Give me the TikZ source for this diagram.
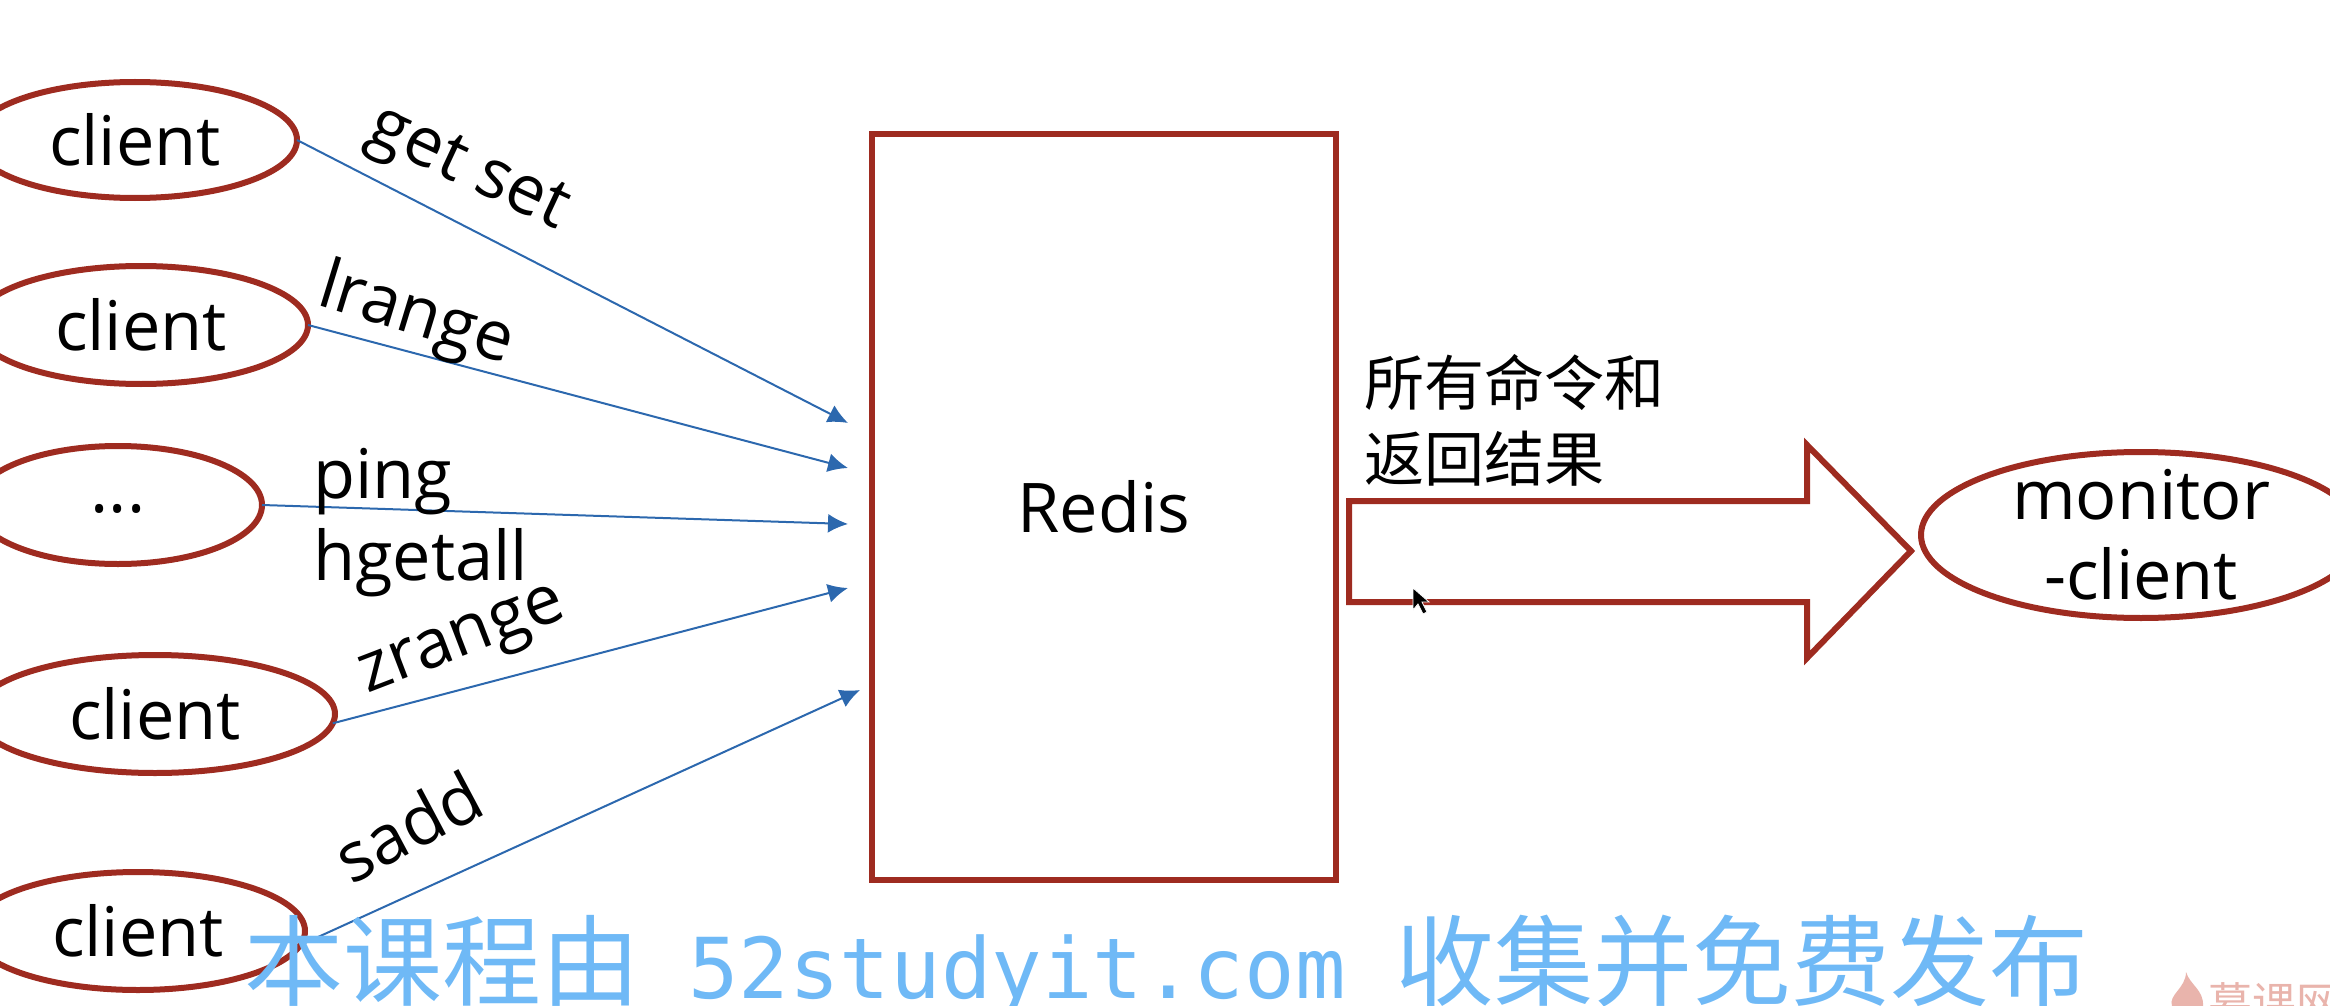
\documentclass[tikz,border=0pt]{standalone}
\usepackage{fontspec}
\setmainfont{Open Sans}
\newfontfamily\cjk{Noto Sans CJK SC}
\newfontfamily\wmono{DejaVu Sans Mono}
\usetikzlibrary{arrows.meta}
\usetikzlibrary{shapes.geometric}
\definecolor{boxred}{HTML}{9E2B20}
\definecolor{lineblue}{HTML}{2C68AE}
\definecolor{markblue}{HTML}{6FB9F6}
\definecolor{logopink}{HTML}{E9B4AC}
\tikzset{
bigtext/.style={font=\fontsize{68.5}{80}\selectfont},
oval/.style={ellipse,draw=boxred,line width=6pt,inner sep=0pt,outer sep=0pt,bigtext},
cmdline/.style={draw=lineblue,line width=2pt,-{Latex[length=20pt,width=19pt,color=lineblue]}},
cmdtext/.style={bigtext,inner sep=0pt},
}
\begin{document}
\begin{tikzpicture}[x=1pt,y=-1pt]
\clip (0,0) rectangle (2330,1006);
%%% HERE ARE THE CLIENTS %%%
\node[oval,minimum width=324pt,minimum height=116pt](client1) at (135,140){client};
\node[oval,minimum width=334pt,minimum height=118pt](client2) at (141,325){client};
\node[oval,minimum width=288pt,minimum height=118pt](client3) at (118,505){\raisebox{-15pt}{...}};
\node[oval,minimum width=360pt,minimum height=118pt](client4) at (155,714){client};
\node[oval,minimum width=334pt,minimum height=118pt](client5) at (138,931){client};
%%% HERE IS REDIS %%%
\node[rectangle,draw=boxred,line width=6pt,minimum width=464pt,minimum height=746pt,inner sep=0pt,bigtext](redis) at (1104,507){Redis};
%%% ARROW ENDS %%%
\coordinate(end1) at (848,423);
\coordinate(end2) at (848,468);
\coordinate(end3) at (848,524);
\coordinate(end4) at (848,588);
\coordinate(end5) at (860,690);
\draw[cmdline] (client1.east) -- (end1);
\draw[cmdline] (client2.east) -- (end2);
\draw[cmdline] (client3.east) -- (end3);
\draw[cmdline] (client4.-3) -- (end4);
\draw[cmdline] (client5.-5) -- (end5);
%%% COMMANDS %%%
\node[cmdtext,rotate=-25](getset) at (467,172){get set};
\node[cmdtext,rotate=-17](lrange) at (416,317){lrange};
\node[cmdtext,anchor=base west](ping) at (313,498){ping};
\node[cmdtext,anchor=base west](hgetall) at (313,580){hgetall};
\node[cmdtext,rotate=21](zrange) at (464,645){zrange};
\node[cmdtext,rotate=28](sadd) at (408,826){sadd};
%%% BIG ARROW AND MONITOR %%%
\draw[draw=boxred,line width=6pt,miter limit=10] (1349,501) -- (1807,501) -- (1807,445) -- (1911,551) -- (1807,658) -- (1807,602) -- (1349,602) -- cycle;
\node[oval,minimum width=440pt,minimum height=166pt](monitor) at (2141,535){};
\node[bigtext,align=center,inner sep=0pt](monitortext) at (2141,535){monitor\\-client};
\node[anchor=base west,align=left,inner sep=0pt,font=\cjk\fontsize{60}{76}\selectfont](result) at (1364,481){所有命令和\\返回结果};
\fill[black,draw=white,line width=.8pt] (1413,588) -- (1413,610) -- (1418,604) -- (1423,614) -- (1427,612) -- (1422,602) -- (1429,602) -- cycle;
%%% WATERMARK %%%
\node[anchor=base west,inner sep=0pt,text=markblue,font=\cjk\fontsize{99}{99}\selectfont](mark) at (244,998){本课程由\hspace{48pt}{\wmono\fontsize{84}{99}\selectfont 52studyit.com}\hspace{50pt}收集并免费发布};
\fill[logopink] (2186,972) .. controls (2190,985) and (2204,990) .. (2203,1006) -- (2172,1006) .. controls (2168,995) and (2186,988) .. (2186,972) -- cycle;
\node[anchor=base west,inner sep=0pt,text=logopink,font=\cjk\fontsize{44}{44}\selectfont](logo) at (2208,1019){慕课网};
\end{tikzpicture}
\end{document}
